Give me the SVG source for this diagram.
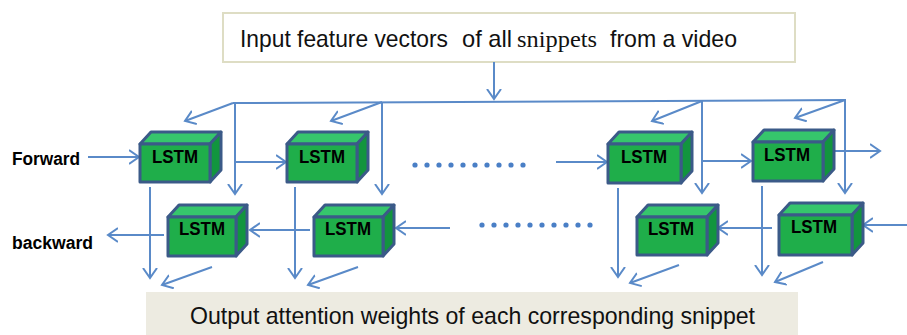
<svg xmlns="http://www.w3.org/2000/svg" width="907" height="335" viewBox="0 0 907 335">
<style>
.front{fill:#1fae4a;stroke:#3b5a88;stroke-width:3;stroke-linejoin:round}
.top{fill:#36c66c;stroke:#3b5a88;stroke-width:3;stroke-linejoin:round}
.side{fill:#12953e;stroke:#3b5a88;stroke-width:3;stroke-linejoin:round}
.lbl{font-family:"Liberation Sans",Arial,sans-serif;font-weight:bold;font-size:19px;fill:#000;text-anchor:middle}
.side-lbl{font-family:"Liberation Sans",Arial,sans-serif;font-weight:bold;font-size:18px;fill:#000}
.big{font-family:"Liberation Sans",Arial,sans-serif;font-size:24px;fill:#111}
.serif{font-family:"Liberation Serif","Times New Roman",serif;font-size:24px;fill:#111}
.conn line,.conn path{stroke:#5a8ac8;stroke-width:2;fill:none}
.arr{marker-end:url(#ah)}
.dot{fill:#4a7fc6}
</style>
<defs>
<marker id="ah" viewBox="0 -8 12 16" refX="10" refY="0" markerWidth="12" markerHeight="16" markerUnits="userSpaceOnUse" orient="auto">
<path d="M0,-7 L10,0 L0,7" fill="none" stroke="#5a8ac8" stroke-width="2"/>
</marker>
</defs>
<rect width="907" height="335" fill="#ffffff"/>

<g id="input-box">
<rect x="223" y="13" width="572" height="49" fill="#ffffff" stroke="#deddc4" stroke-width="2"/>
<text class="big" x="240" y="47" textLength="208" lengthAdjust="spacingAndGlyphs">Input feature vectors</text>
<text class="big" x="462" y="47" textLength="50" lengthAdjust="spacingAndGlyphs">of all</text>
<text class="serif" x="517" y="47" textLength="80" lengthAdjust="spacingAndGlyphs">snippets</text>
<text class="big" x="610" y="47" textLength="127" lengthAdjust="spacingAndGlyphs">from a video</text>
</g>

<g id="output-box">
<rect x="146" y="292" width="652" height="45" fill="#edebe1"/>
<text class="big" x="190" y="324" textLength="565" lengthAdjust="spacingAndGlyphs">Output attention weights of each corresponding snippet</text>
</g>

<g id="label-forward"><text class="side-lbl" x="12" y="165" textLength="68" lengthAdjust="spacingAndGlyphs">Forward</text></g>
<g id="label-backward"><text class="side-lbl" x="12" y="249" textLength="81" lengthAdjust="spacingAndGlyphs">backward</text></g>

<g class="conn" id="connectors">
<line class="arr" x1="494" y1="62" x2="494" y2="99"/>
<line x1="233" y1="103" x2="846" y2="100"/>
<line class="arr" x1="233" y1="103" x2="185" y2="121"/>
<line class="arr" x1="382" y1="102" x2="331" y2="121"/>
<line class="arr" x1="702" y1="101" x2="652" y2="121"/>
<line class="arr" x1="845" y1="100" x2="795" y2="118"/>
<line class="arr" x1="235" y1="103" x2="235" y2="194"/>
<line class="arr" x1="382" y1="102" x2="382" y2="194"/>
<line class="arr" x1="702" y1="101" x2="702" y2="193"/>
<line class="arr" x1="845" y1="100" x2="845" y2="193"/>
<line class="arr" x1="88" y1="157" x2="139" y2="157"/>
<line class="arr" x1="236" y1="162" x2="286" y2="162"/>
<line class="arr" x1="556" y1="162" x2="607" y2="162"/>
<line class="arr" x1="701" y1="161" x2="751" y2="161"/>
<line class="arr" x1="826" y1="151" x2="880" y2="151"/>
<line class="arr" x1="907" y1="225" x2="863" y2="225"/>
<line class="arr" x1="772" y1="228" x2="718" y2="228"/>
<line class="arr" x1="450" y1="228" x2="396" y2="228"/>
<line class="arr" x1="310" y1="230" x2="250" y2="230"/>
<line class="arr" x1="164" y1="235" x2="108" y2="235"/>
<line class="arr" x1="150" y1="187" x2="150" y2="278"/>
<line class="arr" x1="295" y1="187" x2="295" y2="278"/>
<line class="arr" x1="618" y1="188" x2="618" y2="277"/>
<line class="arr" x1="762" y1="186" x2="762" y2="275"/>
<line class="arr" x1="212" y1="267" x2="162" y2="285"/>
<line class="arr" x1="358" y1="267" x2="308" y2="285"/>
<line class="arr" x1="679" y1="265" x2="630" y2="283"/>
<line class="arr" x1="823" y1="262" x2="775" y2="282"/>
</g>

<g id="dots-forward">
<circle class="dot" cx="415" cy="165" r="2.6"/><circle class="dot" cx="427" cy="165" r="2.6"/><circle class="dot" cx="439" cy="165" r="2.6"/><circle class="dot" cx="451" cy="165" r="2.6"/><circle class="dot" cx="463" cy="165" r="2.6"/><circle class="dot" cx="475" cy="165" r="2.6"/><circle class="dot" cx="487" cy="165" r="2.6"/><circle class="dot" cx="499" cy="165" r="2.6"/><circle class="dot" cx="511" cy="165" r="2.6"/><circle class="dot" cx="523" cy="165" r="2.6"/>
</g>
<g id="dots-backward">
<circle class="dot" cx="482" cy="225" r="2.6"/><circle class="dot" cx="494" cy="225" r="2.6"/><circle class="dot" cx="506" cy="225" r="2.6"/><circle class="dot" cx="518" cy="225" r="2.6"/><circle class="dot" cx="530" cy="225" r="2.6"/><circle class="dot" cx="542" cy="225" r="2.6"/><circle class="dot" cx="554" cy="225" r="2.6"/><circle class="dot" cx="566" cy="225" r="2.6"/><circle class="dot" cx="578" cy="225" r="2.6"/><circle class="dot" cx="590" cy="225" r="2.6"/>
</g>

<g id="lstm-f1">
<polygon class="top" points="140,144 151,132 221,132 210,144"/>
<polygon class="side" points="210,144 221,132 221,170 210,182"/>
<rect class="front" x="140" y="144" width="70" height="38"/>
<text class="lbl" x="175" y="163" textLength="46" lengthAdjust="spacingAndGlyphs">LSTM</text>
</g>
<g id="lstm-f2">
<polygon class="top" points="287,144 298,132 368,132 357,144"/>
<polygon class="side" points="357,144 368,132 368,170 357,182"/>
<rect class="front" x="287" y="144" width="70" height="38"/>
<text class="lbl" x="322" y="163" textLength="46" lengthAdjust="spacingAndGlyphs">LSTM</text>
</g>
<g id="lstm-f3">
<polygon class="top" points="608,144 619,132 692,132 681,144"/>
<polygon class="side" points="681,144 692,132 692,171 681,183"/>
<rect class="front" x="608" y="144" width="73" height="39"/>
<text class="lbl" x="644" y="163" textLength="46" lengthAdjust="spacingAndGlyphs">LSTM</text>
</g>
<g id="lstm-f4">
<polygon class="top" points="753,142 764,130 834,130 823,142"/>
<polygon class="side" points="823,142 834,130 834,169 823,181"/>
<rect class="front" x="753" y="142" width="70" height="39"/>
<text class="lbl" x="787" y="161" textLength="46" lengthAdjust="spacingAndGlyphs">LSTM</text>
</g>
<g id="lstm-b1">
<polygon class="top" points="168,217 179,205 247,205 236,217"/>
<polygon class="side" points="236,217 247,205 247,244 236,256"/>
<rect class="front" x="168" y="217" width="68" height="39"/>
<text class="lbl" x="202" y="235" textLength="46" lengthAdjust="spacingAndGlyphs">LSTM</text>
</g>
<g id="lstm-b2">
<polygon class="top" points="314,217 325,205 394,205 383,217"/>
<polygon class="side" points="383,217 394,205 394,244 383,256"/>
<rect class="front" x="314" y="217" width="69" height="39"/>
<text class="lbl" x="348" y="235" textLength="46" lengthAdjust="spacingAndGlyphs">LSTM</text>
</g>
<g id="lstm-b3">
<polygon class="top" points="637,217 648,205 718,205 707,217"/>
<polygon class="side" points="707,217 718,205 718,243 707,255"/>
<rect class="front" x="637" y="217" width="70" height="38"/>
<text class="lbl" x="671" y="235" textLength="46" lengthAdjust="spacingAndGlyphs">LSTM</text>
</g>
<g id="lstm-b4">
<polygon class="top" points="779,215 790,203 863,203 852,215"/>
<polygon class="side" points="852,215 863,203 863,243 852,255"/>
<rect class="front" x="779" y="215" width="73" height="40"/>
<text class="lbl" x="814" y="233" textLength="46" lengthAdjust="spacingAndGlyphs">LSTM</text>
</g>
</svg>
